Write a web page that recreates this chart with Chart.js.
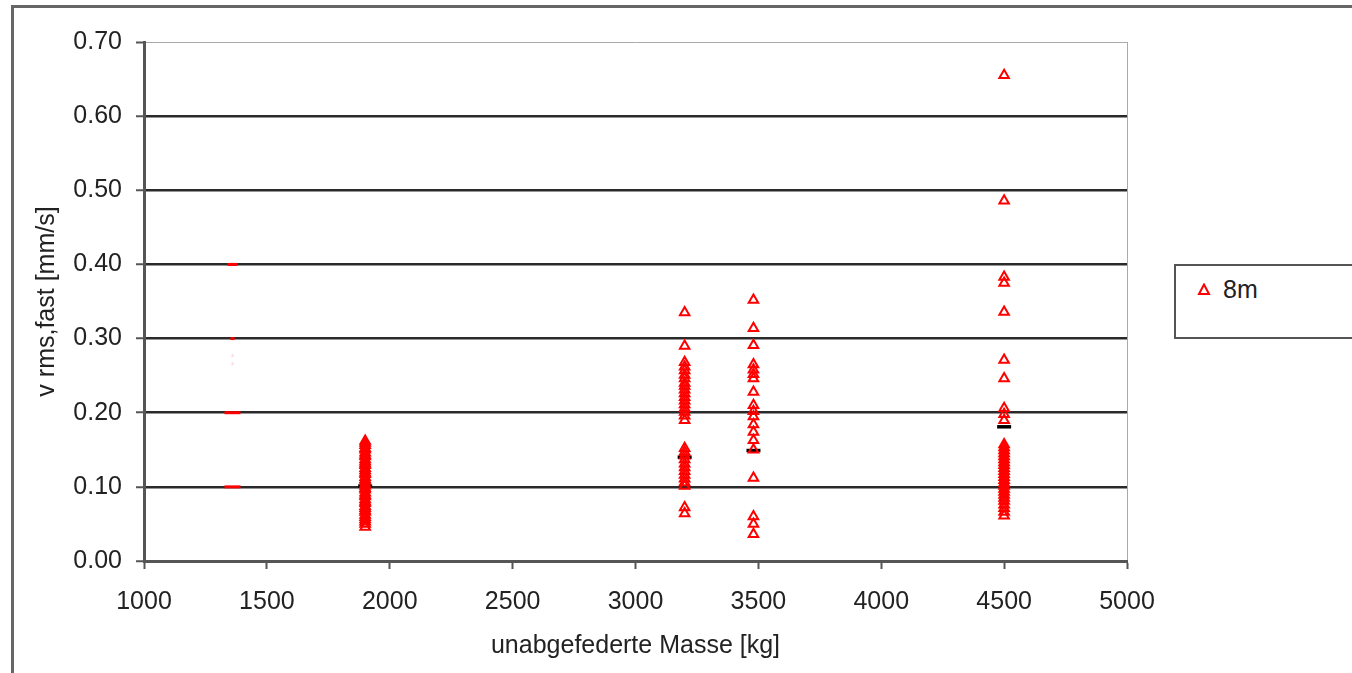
<!DOCTYPE html>
<html>
<head>
<meta charset="utf-8">
<script src="https://cdn.jsdelivr.net/npm/chart.js@4.4.0/dist/chart.umd.min.js"></script>
<style>
  html,body{margin:0;padding:0;background:#fff;}
  #wrap{position:relative;width:1352px;height:673px;overflow:hidden;}
  #frame{position:absolute;left:11px;top:5px;width:1400px;height:700px;border-top:3px solid #666;border-left:3px solid #666;}
  canvas{position:absolute;left:0;top:0;}
  #legend{position:absolute;left:1174px;top:264px;width:220px;height:71px;border:2px solid #555;
    font:25px "Liberation Sans",Arial,sans-serif;color:#222;background:#fff;}
  #legend svg{position:absolute;left:21px;top:17px;}
  #legend span{position:absolute;left:47px;top:9px;}
</style>
</head>
<body>
<div id="wrap">
  <div id="frame"></div>
  <canvas id="c" width="1352" height="673"></canvas>
  <div id="legend">
    <svg width="14" height="13"><polygon points="7,1.5 12,11 2,11" fill="none" stroke="#ff0000" stroke-width="2"/></svg>
    <span>8m</span>
  </div>
</div>
<script>
// unabgefederte Masse [kg] per Fahrzeuggruppe
const massGroups = [1360, 1900, 3200, 3480, 4500];

// v rms,fast [mm/s] – Messpunkte 8m
const vrms1900 = [0.162, 0.159, 0.156, 0.152, 0.150, 0.146, 0.143, 0.141, 0.137, 0.134, 0.131, 0.129, 0.125,
  0.122, 0.119, 0.117, 0.113, 0.110, 0.108, 0.104, 0.101, 0.098, 0.096, 0.092, 0.089, 0.087, 0.083,
  0.080, 0.078, 0.074, 0.071, 0.068, 0.066, 0.062, 0.059, 0.056, 0.053, 0.050, 0.046];
const vrms3200 = [0.335, 0.290, 0.268, 0.262, 0.257, 0.251, 0.246, 0.240, 0.236, 0.231, 0.226, 0.221, 0.216,
  0.211, 0.206, 0.201, 0.196, 0.190, 0.152, 0.147, 0.142, 0.137, 0.131, 0.126, 0.121, 0.116, 0.111,
  0.106, 0.101, 0.072, 0.064];
const vrms3480 = [0.352, 0.314, 0.291, 0.265, 0.258, 0.252, 0.246, 0.228, 0.210, 0.202, 0.195, 0.184, 0.174,
  0.163, 0.150, 0.112, 0.060, 0.050, 0.036];
const vrms4500 = [0.655, 0.486, 0.383, 0.375, 0.336, 0.271, 0.246, 0.206, 0.198, 0.190, 0.157, 0.153, 0.149,
  0.145, 0.141, 0.137, 0.133, 0.129, 0.125, 0.121, 0.117, 0.113, 0.109, 0.105, 0.101, 0.097, 0.093,
  0.089, 0.085, 0.081, 0.076, 0.071, 0.066, 0.061];

// Werte bei 1360 kg (nur als Striche sichtbar)
const vrms1360 = [0.400, 0.300, 0.200, 0.100, 0.277, 0.266];

// Mittelwerte (schwarze Striche)
const meanMass = [1900, 3200, 3480, 4500];
const meanVrms = [0.101, 0.140, 0.149, 0.181];

const yTicks = [0, 0.1, 0.2, 0.3, 0.4, 0.5, 0.6, 0.7];
const xTicks = [1000, 1500, 2000, 2500, 3000, 3500, 4000, 4500, 5000];

const red = '#ff0000';
const font = {family: '"Liberation Sans", Arial, sans-serif', size: 25};

function col(mass, vals){ return vals.map(v => ({x: mass, y: v})); }

const points8m = [].concat(
  col(massGroups[1], vrms1900),
  col(massGroups[2], vrms3200),
  col(massGroups[3], vrms3480),
  col(massGroups[4], vrms4500)
);

new Chart(document.getElementById('c'), {
  type: 'scatter',
  data: {
    datasets: [
      {
        label: '8m',
        data: points8m,
        pointStyle: 'triangle',
        pointRadius: 5.5,
        pointBorderWidth: 2,
        borderColor: red,
        backgroundColor: 'rgba(255,255,255,0)'
      },
      {
        label: '1360',
        data: col(massGroups[0], vrms1360),
        pointStyle: 'line',
        pointRadius: [5, 2, 8, 8, 1, 1],
        pointBorderWidth: 3,
        borderColor: [red, red, red, red, 'rgba(255,0,0,0.15)', 'rgba(255,0,0,0.15)']
      },
      {
        label: 'Mittelwert',
        data: meanMass.map((m, i) => ({x: m, y: meanVrms[i]})),
        pointStyle: 'line',
        pointRadius: 7,
        pointBorderWidth: 3.5,
        borderColor: '#000'
      }
    ]
  },
  options: {
    responsive: false,
    animation: false,
    events: [],
    layout: {padding: {left: 12, top: 42, right: 225, bottom: 0}},
    plugins: {legend: {display: false}, tooltip: {enabled: false}},
    scales: {
      x: {
        type: 'linear',
        min: 1000, max: 5000,
        afterFit: s => { s.height = 112; },
        afterBuildTicks: s => { s.ticks = xTicks.map(v => ({value: v})); },
        ticks: {color: '#222', font, padding: 18, callback: v => String(v)},
        grid: {
          color: c => (c.tick && c.tick.value === 5000) ? '#aaa' : 'rgba(0,0,0,0)',
          lineWidth: 1,
          tickColor: '#555',
          tickLength: 8,
          tickWidth: 2
        },
        border: {color: '#555', width: 3},
        title: {display: true, text: 'unabgefederte Masse [kg]', color: '#222', font, padding: {top: 0, bottom: 12}}
      },
      y: {
        min: 0, max: 0.7,
        afterFit: s => { s.width = 132; },
        afterBuildTicks: s => { s.ticks = yTicks.map(v => ({value: v})); },
        ticks: {color: '#222', font, padding: 14, callback: v => v.toFixed(2)},
        grid: {
          color: c => {
            if (!c.tick) return 'rgba(0,0,0,0)';
            const v = Math.round(c.tick.value * 10);
            if (v === 0) return 'rgba(0,0,0,0)';
            if (v === 7) return '#aaa';
            return '#2a2a2a';
          },
          lineWidth: c => (c.tick && Math.round(c.tick.value * 10) === 7) ? 1 : 2.5,
          tickColor: '#555',
          tickLength: 8,
          tickWidth: 2
        },
        border: {color: '#555', width: 3},
        title: {display: true, text: 'v rms,fast [mm/s]', color: '#222', font, padding: {top: 20, bottom: 0}}
      }
    }
  }
});
</script>
</body>
</html>
